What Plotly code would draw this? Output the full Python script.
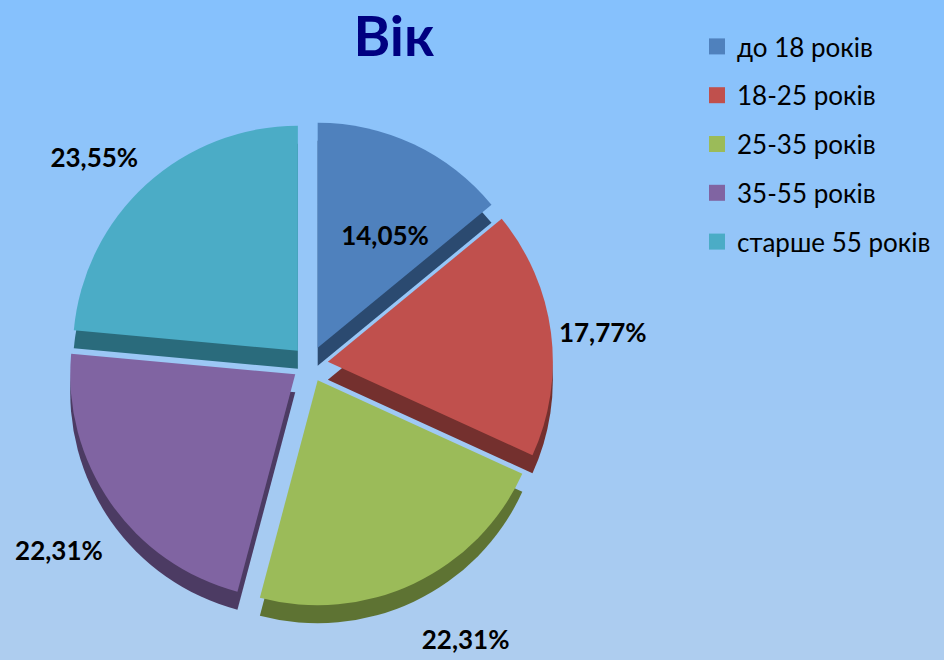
import plotly.graph_objects as go

labels = ["до 18 років", "18-25 років", "25-35 років", "35-55 років", "старше 55 років"]
values = [14.05, 17.77, 22.31, 22.31, 23.55]
value_text = ["14,05%", "17,77%", "22,31%", "22,31%", "23,55%"]
colors = ["#4f81bd", "#c0504d", "#9bbb59", "#8064a2", "#4bacc6"]
side_colors = ["#2b4a70", "#74302e", "#5e7333", "#4c3b63", "#2a6b7c"]
title_text = "Вік"

FONT = "Lato, 'Noto Sans', sans-serif"
W, H = 944, 660

pull = [0.08] * len(values)
cx, cy, half = 310, 364, 243
depth = 18

def dom(cx, cy):
    return dict(x=[(cx - half) / W, (cx + half) / W],
                y=[1 - (cy + half) / H, 1 - (cy - half) / H])

fig = go.Figure()
# side / depth layer
fig.add_trace(go.Pie(
    labels=labels, values=values, sort=False, direction="clockwise", rotation=0,
    pull=pull, marker=dict(colors=side_colors, line=dict(width=0)),
    textinfo="none", hoverinfo="skip", showlegend=False,
    domain=dom(cx, cy + depth),
))
# top face
fig.add_trace(go.Pie(
    labels=labels, values=values, sort=False, direction="clockwise", rotation=0,
    pull=pull, marker=dict(colors=colors, line=dict(width=0)),
    textinfo="none", showlegend=False,
    hovertemplate="%{label}: %{value}%<extra></extra>",
    domain=dom(cx, cy),
))

# label layers (transparent pies, vertically offset to mimic the 3D perspective)
lab_font = dict(family=FONT, size=26, color="black", weight="bold")
label_layers = [  # (vertical offset px, slice indices, position)
    (30, [0], "inside"),
    (0, [1], "outside"),
    (42, [2, 3], "outside"),
    (-19, [4], "outside"),
]
for off, idx, pos in label_layers:
    fig.add_trace(go.Pie(
        labels=labels, values=values, sort=False, direction="clockwise", rotation=0,
        pull=pull, marker=dict(colors=["rgba(0,0,0,0)"] * len(values), line=dict(width=0)),
        text=value_text, texttemplate="%{text}",
        textposition=[pos if i in idx else "none" for i in range(len(values))],
        textfont=lab_font, insidetextfont=lab_font, outsidetextfont=lab_font,
        hoverinfo="skip", showlegend=False,
        domain=dom(cx, cy + off),
    ))

# legend entries
for i, (lab, col) in enumerate(zip(labels, colors)):
    fig.add_trace(go.Scatter(
        x=[None], y=[None], mode="markers", name=lab, legendgroup=f"g{i}",
        marker=dict(symbol="square", size=18, color=col, line=dict(width=0)),
    ))

# background gradient
n = 66
top = (0x85, 0xc1, 0xfd)
bot = (0xae, 0xcd, 0xef)
shapes = []
for i in range(n):
    t = i / (n - 1)
    c = tuple(round(top[k] + (bot[k] - top[k]) * t) for k in range(3))
    shapes.append(dict(type="rect", xref="paper", yref="paper", layer="below",
                       x0=-0.2, x1=1.2, y0=1 - (i + 1) / n - 0.002, y1=1 - i / n,
                       fillcolor="rgb(%d,%d,%d)" % c, line=dict(width=0)))

fig.update_layout(
    width=W, height=H,
    margin=dict(l=0, r=0, t=0, b=0, autoexpand=False),
    paper_bgcolor="rgb(133,193,253)",
    plot_bgcolor="rgba(0,0,0,0)",
    shapes=shapes,
    xaxis=dict(visible=False, automargin=False), yaxis=dict(visible=False, automargin=False),
    title=dict(text=title_text, x=394 / W, xanchor="center", y=1 - 36 / H, yanchor="middle",
               font=dict(family=FONT, size=56, color="#000080", weight="bold")),
    legend=dict(x=697 / W, xanchor="left", y=1 - 23 / H, yanchor="top",
                traceorder="grouped", tracegroupgap=12,
                font=dict(family=FONT, size=26, color="black"),
                bgcolor="rgba(0,0,0,0)"),
)

fig.write_html("out.html")
